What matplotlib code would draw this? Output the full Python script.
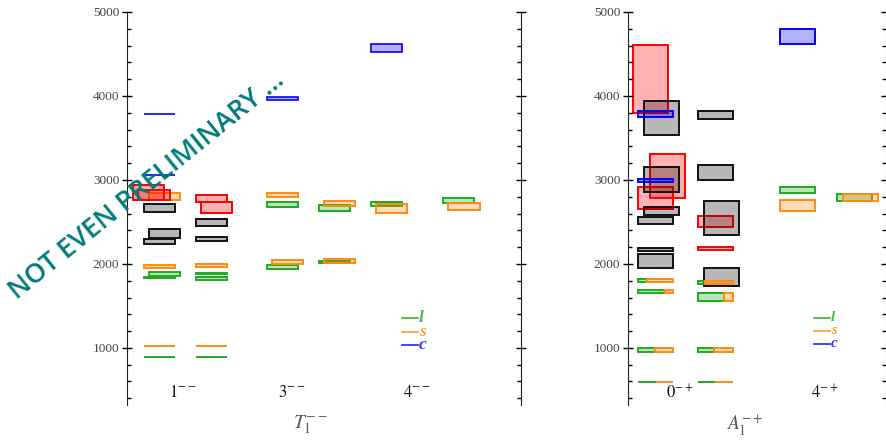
import matplotlib
matplotlib.use("Agg")
import matplotlib.pyplot as plt
from matplotlib.ticker import MultipleLocator

plt.rcParams['font.family'] = ['Liberation Serif', 'DejaVu Serif']
plt.rcParams['mathtext.fontset'] = 'stix'

# ---- T1-- panel (left) ----
T1_cols = [0.62, 1.62, 2.99, 3.99, 4.99, 6.38]
T1_tick_pos = [1.08, 3.17, 5.58]
T1_tick_labels = [r'$1^{--}$', r'$3^{--}$', r'$4^{--}$']

T1_l_col = [0, 0, 0, 1, 1, 1, 2, 2, 3, 3, 4, 5]
T1_l_mass = [1880, 1843, 893, 1885, 1821, 893, 2705, 1960, 2667, 2028, 2710, 2756]
T1_l_err = [20, 6, 0, 6, 18, 0, 30, 24, 40, 12, 24, 26]
T1_l_shift = [0.1, 0, 0, 0, 0, 0, 0, 0, 0, 0, 0, 0]

T1_s_col = [0, 0, 0, 1, 1, 2, 2, 3, 3, 4, 5]
T1_s_mass = [2803, 1970, 1027, 1980, 1027, 2822, 2020, 2718, 2032, 2660, 2683]
T1_s_err = [40, 20, 0, 20, 0, 20, 24, 32, 24, 50, 40]
T1_s_shift = [0.1, 0, 0, 0, 0, 0, 0.1, 0.1, 0.1, 0.1, 0.1]

T1_c_col = [0, 0, 2, 4]
T1_c_mass = [3782, 3060, 3970, 4575]
T1_c_err = [0, 0, 15, 48]
T1_c_shift = [0, 0, 0, 0]

T1_red_col = [0, 0, 1, 1]
T1_red_mass = [2851, 2821, 2780, 2672]
T1_red_err = [89, 59, 40, 62]
T1_red_shift = [-0.2, -0.1, 0, 0.1]

T1_blk_col = [0, 0, 0, 1, 1]
T1_blk_mass = [2667, 2363, 2268, 2492, 2298]
T1_blk_err = [48, 53, 30, 40, 28]
T1_blk_shift = [0, 0.1, 0, 0, 0]

# ---- A1-+ panel (right) ----
A1_cols = [0.48, 1.5, 2.9, 3.88]
A1_tick_pos = [0.89, 3.38]
A1_tick_labels = [r'$0^{-+}$', r'$4^{-+}$']

A1_red_col = [0, 0, 0, 1, 1]
A1_red_mass = [4200, 3050, 2784, 2506, 2186]
A1_red_err = [406, 260, 130, 70, 18]
A1_red_shift = [-0.1, 0.2, 0, 0, 0]

A1_blk_col = [0, 0, 0, 0, 0, 0, 1, 1, 1, 1]
A1_blk_mass = [3742, 3010, 2629, 2520, 2172, 2032, 3774, 3089, 2548, 1845]
A1_blk_err = [202, 150, 46, 40, 18, 83, 51, 89, 202, 107]
A1_blk_shift = [0.1, 0.1, 0.1, 0, 0, 0, 0, 0, 0.1, 0.1]

A1_c_col = [0, 0, 2]
A1_c_mass = [3788, 2996, 4707]
A1_c_err = [38, 16, 88]
A1_c_shift = [0, 0, 0]

A1_l_col = [2, 3]
A1_l_mass = [2879, 2796]
A1_l_err = [34, 42]
A1_l_shift = [0, 0]

A1_s_col = [2, 3]
A1_s_mass = [2694, 2796]
A1_s_err = [68, 42]
A1_s_shift = [0, 0.1]

# states shared between l and s: green part = light fraction
A1_mix_col = [0, 0, 0, 0, 1, 1, 1, 1]
A1_mix_mass = [1804, 1670, 976, 595, 1778, 1607, 976, 595]
A1_mix_err = [18, 20, 20, 0, 20, 44, 20, 0]
A1_mix_frac = [0.23, 0.76, 0.48, 0.5, 0.21, 0.75, 0.47, 0.5]

GREEN = '#1faa1f'
ORANGE = '#ff8a10'
BLUE = '#0000ff'
RED = '#ff0000'
BLACK = '#111111'
W = 0.6


def boxes(ax, cols, col, mass, err, shift, edge, lw=1.4):
    x = [cols[c] + s for c, s in zip(col, shift)]
    bottom = [m - e for m, e in zip(mass, err)]
    height = [2 * e for e in err]
    ax.bar(x, height, bottom=bottom, width=W, facecolor=matplotlib.colors.to_rgba(edge, 0.3),
           edgecolor=edge, linewidth=lw)


def style(ax, xmax):
    ax.set_xlim(0, xmax)
    ax.set_ylim(320, 5000)
    for s in ['top', 'bottom']:
        ax.spines[s].set_visible(False)
    ax.set_xticks([])
    ax.yaxis.set_major_locator(MultipleLocator(1000))
    ax.yaxis.set_minor_locator(MultipleLocator(200))
    ax.tick_params(axis='y', which='major', direction='inout', length=7, width=1,
                   labelsize=9.5, labelcolor='#444444', right=True, left=True, pad=2)
    ax.tick_params(axis='y', which='minor', direction='in', length=3, width=1, right=True, left=True)
    for s in ['left', 'right']:
        ax.spines[s].set_color('#222222')


fig = plt.figure(figsize=(8.87, 4.44), dpi=100)
ax1 = fig.add_axes([127 / 887, 39 / 444, 394 / 887, 393 / 444])
ax2 = fig.add_axes([628 / 887, 39 / 444, 258 / 887, 393 / 444])

# left panel
boxes(ax1, T1_cols, T1_l_col, T1_l_mass, T1_l_err, T1_l_shift, GREEN)
boxes(ax1, T1_cols, T1_s_col, T1_s_mass, T1_s_err, T1_s_shift, ORANGE)
boxes(ax1, T1_cols, T1_red_col, T1_red_mass, T1_red_err, T1_red_shift, RED)
boxes(ax1, T1_cols, T1_blk_col, T1_blk_mass, T1_blk_err, T1_blk_shift, BLACK)
boxes(ax1, T1_cols, T1_c_col, T1_c_mass, T1_c_err, T1_c_shift, BLUE, lw=1.2)

# right panel
boxes(ax2, A1_cols, A1_red_col, A1_red_mass, A1_red_err, A1_red_shift, RED)
boxes(ax2, A1_cols, A1_blk_col, A1_blk_mass, A1_blk_err, A1_blk_shift, BLACK)
boxes(ax2, A1_cols, A1_c_col, A1_c_mass, A1_c_err, A1_c_shift, BLUE)
boxes(ax2, A1_cols, A1_l_col, A1_l_mass, A1_l_err, A1_l_shift, GREEN)
boxes(ax2, A1_cols, A1_s_col, A1_s_mass, A1_s_err, A1_s_shift, ORANGE)

left = [A1_cols[c] - W / 2 for c in A1_mix_col]
bottom = [m - e for m, e in zip(A1_mix_mass, A1_mix_err)]
height = [2 * e for e in A1_mix_err]
gw = [W * f for f in A1_mix_frac]
ax2.bar(left, height, bottom=bottom, width=gw, align='edge',
        facecolor=matplotlib.colors.to_rgba(GREEN, 0.3), edgecolor=GREEN, linewidth=1.4)
ax2.bar([l + g for l, g in zip(left, gw)], height, bottom=bottom, width=[W - g for g in gw], align='edge',
        facecolor=matplotlib.colors.to_rgba(ORANGE, 0.3), edgecolor=ORANGE, linewidth=1.4)

style(ax1, 394 / 52)
style(ax2, 258 / 58.3)
ax2.spines['right'].set_color('#bbbbbb')

for ax, pos, labs in [(ax1, T1_tick_pos, T1_tick_labels), (ax2, A1_tick_pos, A1_tick_labels)]:
    for p, t in zip(pos, labs):
        ax.text(p, 0.03, t, transform=ax.get_xaxis_transform(), ha='center', va='center',
                fontsize=12, color='#111111')

# legends
for ax, x0, fs, dy in [(ax1, 0.698, 12.5, 0.035), (ax2, 0.72, 10.5, 0.033)]:
    for i, (name, c) in enumerate([('l', '#44bb44'), ('s', '#ffa040'), ('c', '#3333ff')]):
        yy = 0.222 - i * dy
        ax.plot([x0, x0 + 16 / ax.bbox.width], [yy, yy], color=c, lw=1.3,
                transform=ax.transAxes, clip_on=False)
        ax.text(x0 + 17 / ax.bbox.width, yy, name, transform=ax.transAxes, color=c,
                fontsize=fs, style='italic', fontweight='bold', ha='left', va='center')

fig.text(310 / 887, 1 - 425 / 444, r'$T_1^{--}$', ha='center', va='center', fontsize=14, color='#555555')
fig.text(745 / 887, 1 - 425 / 444, r'$A_1^{-+}$', ha='center', va='center', fontsize=14, color='#555555')

fig.text(17 / 887, 1 - 300 / 444, 'NOT EVEN PRELIMINARY ...', rotation=39, rotation_mode='anchor',
         ha='left', va='baseline', fontsize=19.5, color='#007a7a', family='Open Sans', fontweight='semibold')

fig.savefig('out.png', dpi=100)
